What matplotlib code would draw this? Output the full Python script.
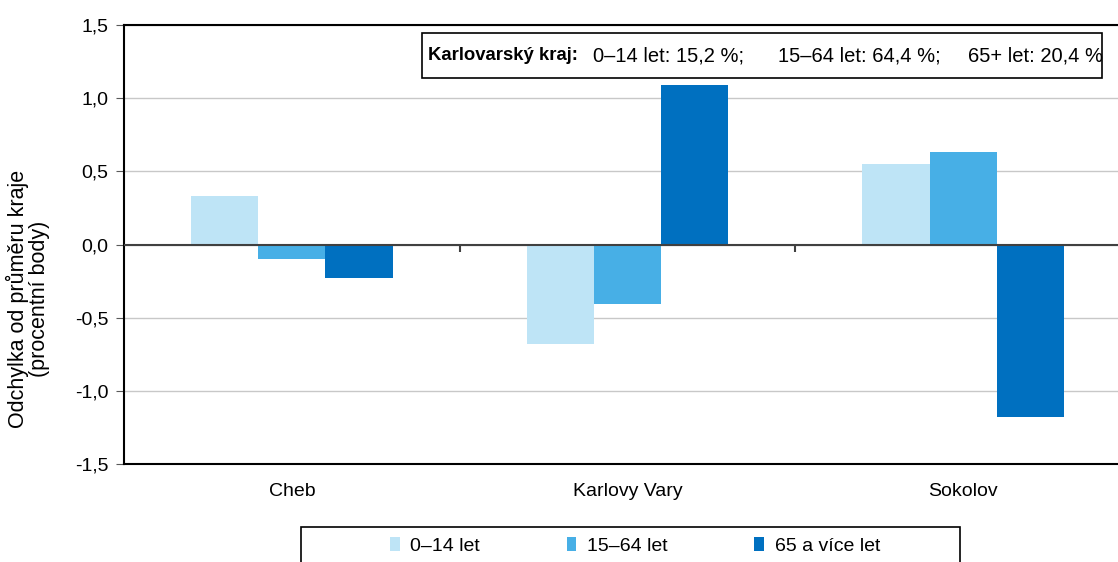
import matplotlib
matplotlib.use("Agg")
import matplotlib.pyplot as plt
from matplotlib import font_manager
from matplotlib.patches import Rectangle
from matplotlib.ticker import FuncFormatter, MultipleLocator
import numpy as np

plt.rcParams['font.family'] = ['Liberation Sans', 'DejaVu Sans']

# data
districts = ["Cheb", "Karlovy Vary", "Sokolov"]
series_names = ["0–14 let", "15–64 let", "65 a více let"]
age_0_14 = [0.33, -0.68, 0.55]
age_15_64 = [-0.10, -0.41, 0.63]
age_65_plus = [-0.23, 1.09, -1.18]
region_parts = ["0–14 let: 15,2 %;", "15–64 let: 64,4 %;", "65+ let: 20,4 %"]
colors = ["#BEE4F6", "#47AFE6", "#0070C0"]

# narrow font for the region box, if it is there
names = {f.name for f in font_manager.fontManager.ttflist}
if "Liberation Sans Narrow" in names:
    box_family, bold_size, box_size = ["Liberation Sans Narrow"], 16.2, 17.6
else:
    box_family, bold_size, box_size = ["Liberation Sans"], 13.3, 14.5

W, H = 1118, 562
fig = plt.figure(figsize=(W / 100, H / 100), dpi=100)
ax = fig.add_axes([124 / W, 1 - 464 / H, (1131 - 124) / W, (464 - 25) / H])

x = np.arange(len(districts))
bw = 0.2
for i, (vals, name, col) in enumerate(zip([age_0_14, age_15_64, age_65_plus], series_names, colors)):
    ax.bar(x + (i - 1) * bw, vals, bw, color=col, label=name, linewidth=0, zorder=3)

ax.set_xlim(-0.5, 2.5)
ax.set_ylim(-1.5, 1.5)
ax.yaxis.set_major_locator(MultipleLocator(0.5))
ax.yaxis.set_major_formatter(FuncFormatter(lambda v, p: f"{v:.1f}".replace(".", ",").replace("-0,0", "0,0")))
ax.grid(axis="y", color="#C8C8C8", linewidth=1, zorder=0)

# zero line with category separators
ax.axhline(0, color="#404040", linewidth=1.5, zorder=4)
ax.vlines([0.5, 1.5], -0.048, 0, color="#404040", linewidth=1.5, zorder=4)

for s in ["left", "bottom", "top"]:
    ax.spines[s].set_color("black")
    ax.spines[s].set_linewidth(1.5)
ax.spines["right"].set_visible(False)

ax.set_xticks(x)
ax.set_xticklabels(districts, fontsize=14)
ax.tick_params(axis="x", length=0, pad=14)
ax.tick_params(axis="y", labelsize=14, length=6, color="#595959", pad=5)

fig.text(28 / W, 1 - 299 / H, "Odchylka od průměru kraje\n(procentní body)", rotation=90,
         ha="center", va="center", fontsize=15.5, linespacing=0.95, multialignment="center")

# region average box
fig.patches.append(Rectangle((422 / W, 1 - 78 / H), (1102 - 422) / W, 45 / H, transform=fig.transFigure,
                             facecolor="white", edgecolor="black", linewidth=1.2, zorder=5))
fig.text(428 / W, 1 - 56 / H, "Karlovarský kraj:", family=box_family, fontsize=bold_size,
         fontweight="bold", va="center", zorder=6)
for xpos, part in zip([593, 778, 968], region_parts):
    fig.text(xpos / W, 1 - 56 / H, part, family=box_family, fontsize=box_size, va="center", zorder=6)

# legend
fig.patches.append(Rectangle((301 / W, -0.05), (960 - 301) / W, 1 - 527 / H + 0.05, transform=fig.transFigure,
                             facecolor="white", edgecolor="black", linewidth=1.2))
fig.legend(loc="center left", bbox_to_anchor=(390 / W, 1 - 546 / H), ncol=3, frameon=False,
           fontsize=14, borderpad=0, handlelength=0.5, handleheight=0.75, handletextpad=0.55,
           columnspacing=4.45, borderaxespad=0)

fig.savefig("out.png", dpi=100)
